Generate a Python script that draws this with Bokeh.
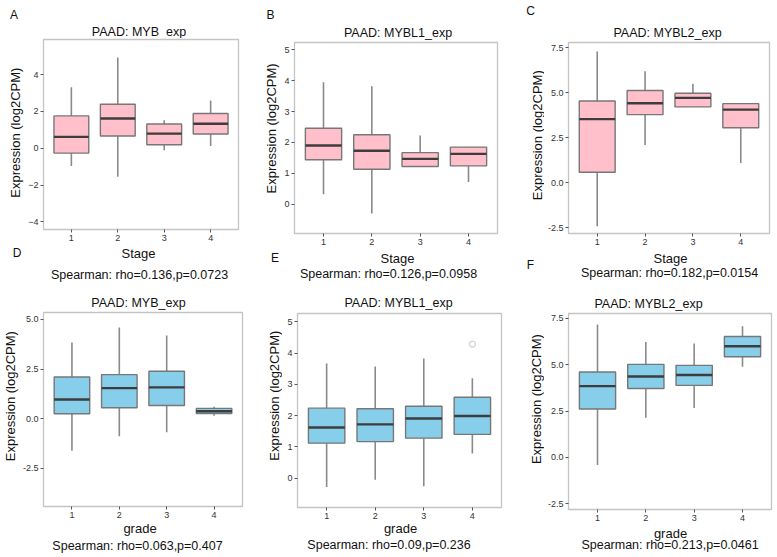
import math
from bokeh.plotting import figure
from bokeh.models import FixedTicker, NumeralTickFormatter, Range1d
from bokeh.layouts import row, column
from bokeh.core.properties import value
from bokeh.embed import file_html
from bokeh.resources import INLINE

# ---------------- data ----------------
groups = [1, 2, 3, 4]
tick_labels = ["1", "2", "3", "4"]

# Panel A: MYB by Stage
a_low = [-0.96, -1.55, -0.11, 0.12]
a_q1 = [-0.26, 0.67, 0.19, 0.78]
a_med = [0.62, 1.62, 0.80, 1.33]
a_q3 = [1.76, 2.39, 1.32, 1.89]
a_high = [3.32, 4.93, 1.53, 2.60]

# Panel B: MYBL1 by Stage
b_low = [0.32, -0.30, 1.21, 0.72]
b_q1 = [1.44, 1.13, 1.22, 1.24]
b_med = [1.90, 1.73, 1.47, 1.63]
b_q3 = [2.46, 2.25, 1.67, 1.85]
b_high = [3.95, 3.82, 2.23, 1.85]

# Panel C: MYBL2 by Stage
c_low = [-2.41, 2.10, 4.20, 1.10]
c_q1 = [0.59, 3.78, 4.21, 3.05]
c_med = [3.53, 4.41, 4.71, 4.06]
c_q3 = [4.54, 5.12, 4.97, 4.39]
c_high = [7.28, 6.19, 5.49, 4.39]

# Panel D: MYB by grade
d_low = [-1.61, -0.88, -0.68, 0.15]
d_q1 = [0.25, 0.55, 0.67, 0.26]
d_med = [0.97, 1.54, 1.58, 0.38]
d_q3 = [2.10, 2.22, 2.39, 0.52]
d_high = [3.84, 4.60, 4.19, 0.60]

# Panel E: MYBL1 by grade
e_low = [-0.28, -0.05, -0.26, 0.79]
e_q1 = [1.12, 1.17, 1.28, 1.40]
e_med = [1.62, 1.72, 1.91, 1.99]
e_q3 = [2.24, 2.22, 2.30, 2.59]
e_high = [3.67, 3.57, 3.83, 3.20]
e_out_x = [4]
e_out_y = [4.29]

# Panel F: MYBL2 by grade
f_low = [-0.40, 2.14, 2.66, 4.88]
f_q1 = [2.61, 3.71, 3.88, 5.42]
f_med = [3.84, 4.36, 4.44, 5.99]
f_q3 = [4.60, 5.01, 4.96, 6.51]
f_high = [7.16, 6.21, 6.14, 7.07]

titles = ["PAAD: MYB_exp", "PAAD: MYBL1_exp", "PAAD: MYBL2_exp"]
stats_stage = ["Spearman: rho=0.136,p=0.0723", "Spearman: rho=0.126,p=0.0958",
               "Spearman: rho=0.182,p=0.0154"]
stats_grade = ["Spearman: rho=0.063,p=0.407", "Spearman: rho=0.09,p=0.236",
               "Spearman: rho=0.213,p=0.0461"]
panel_letters = ["A", "B", "C", "D", "E", "F"]
x_labels = ["Stage", "grade"]
y_label = "Expression (log2CPM)"

FONT = "Liberation Sans"
PINK = "#FFC0CB"
BLUE = "#87CEEB"
V = math.pi / 2


def text_fig(x0, y0, x1, y1, items):
    """A blank strip whose data space equals page pixels (y negated)."""
    p = figure(width=x1 - x0, height=y1 - y0, x_range=Range1d(x0, x1), y_range=Range1d(-y1, -y0),
               output_backend="svg", toolbar_location=None, title=None,
               x_axis_type=None, y_axis_type=None,
               min_border_left=0, min_border_right=0, min_border_top=0, min_border_bottom=0)
    p.outline_line_color = None
    p.background_fill_color = "white"
    p.border_fill_color = "white"
    for (txt, X, Y, size, angle) in items:
        p.text(x=[X], y=[-Y], text=[txt], angle=angle, text_align="center",
               text_baseline="middle", text_font=value(FONT), text_font_size=value(size),
               text_color="#111111")
    return p


def plot_fig(x0, y0, x1, y1, frame, yr, yticks, fmt, data, fill, outliers=None):
    l, t, r, b = frame
    p = figure(width=x1 - x0, height=y1 - y0,
               x_range=Range1d(0.4, 4.6), y_range=Range1d(*yr),
               output_backend="svg", toolbar_location=None, title=None,
               min_border_left=l - x0, min_border_right=x1 - r,
               min_border_top=t - y0, min_border_bottom=y1 - b)
    p.background_fill_color = "white"
    p.border_fill_color = "white"
    p.outline_line_color = "#c4c4c4"
    p.outline_line_width = 1.3
    p.xgrid.visible = False
    p.ygrid.visible = False
    for ax in (p.xaxis[0], p.yaxis[0]):
        ax.axis_line_color = None
        ax.major_tick_line_color = "#555555"
        ax.major_tick_in = 0
        ax.major_tick_out = 3
        ax.minor_tick_line_color = None
        ax.major_label_text_font = FONT
        ax.major_label_text_font_size = "9px"
        ax.major_label_text_color = "#333333"
        ax.major_label_standoff = 2
    p.xaxis[0].ticker = FixedTicker(ticks=groups)
    p.xaxis[0].major_label_overrides = {g: s for g, s in zip(groups, tick_labels)}
    p.yaxis[0].ticker = FixedTicker(ticks=yticks)
    if fmt:
        p.yaxis[0].formatter = NumeralTickFormatter(format=fmt)

    low, q1, med, q3, high = data
    p.segment(x0=groups, y0=low, x1=groups, y1=q1, line_color="#8a8a8a", line_width=1.6)
    p.segment(x0=groups, y0=q3, x1=groups, y1=high, line_color="#8a8a8a", line_width=1.6)
    p.vbar(x=groups, width=0.75, bottom=q1, top=q3, fill_color=fill,
           line_color="#777777", line_width=1.4)
    p.segment(x0=[g - 0.375 for g in groups], y0=med, x1=[g + 0.375 for g in groups], y1=med,
              line_color="#3d3d3d", line_width=2.4)
    if outliers is not None:
        p.scatter(x=outliers[0], y=outliers[1], size=6, fill_color=None,
                  line_color="#d4d4d4", line_width=1.2)
    return p


LS, TS, AS = "12px", "12.5px", "13px"

colA = column(
    text_fig(0, 0, 264, 38, [(panel_letters[0], 13.5, 14, LS, 0), (titles[0], 138.5, 31.5, TS, 0)]),
    row(text_fig(0, 38, 25, 246, [(y_label, 15, 140, AS, V)]),
        plot_fig(25, 38, 264, 246, (40, 39, 238, 229), (-4.41, 5.91), [-4, -2, 0, 2, 4], None,
                 (a_low, a_q1, a_med, a_q3, a_high), PINK)),
    text_fig(0, 246, 264, 311, [(panel_letters[3], 16.5, 252, LS, 0), (x_labels[0], 138, 253, AS, 0),
                                (stats_stage[0], 139, 274.5, TS, 0), (titles[0], 138, 302.5, TS, 0)]),
    row(text_fig(0, 311, 19, 522, [(y_label, 10, 402, AS, V)]),
        plot_fig(19, 311, 264, 522, (41, 312, 242, 506), (-4.42, 5.35), [-2.5, 0, 2.5, 5], "0.0",
                 (d_low, d_q1, d_med, d_q3, d_high), BLUE)),
    text_fig(0, 522, 264, 557, [(x_labels[1], 139.5, 528, AS, 0), (stats_grade[0], 137, 545, TS, 0)]),
)

colB = column(
    text_fig(264, 0, 520, 41, [(panel_letters[1], 270, 14, LS, 0), (titles[1], 397.5, 32.5, TS, 0)]),
    row(text_fig(264, 41, 280, 250, [(y_label, 271, 135, AS, V)]),
        plot_fig(280, 41, 520, 250, (294, 42, 497, 233), (-0.95, 5.24), [0, 1, 2, 3, 4, 5], None,
                 (b_low, b_q1, b_med, b_q3, b_high), PINK)),
    text_fig(264, 250, 520, 312, [(panel_letters[4], 274.5, 257, LS, 0), (x_labels[0], 397, 258, AS, 0),
                                  (stats_stage[1], 388, 273.5, TS, 0), (titles[1], 398, 302.5, TS, 0)]),
    row(text_fig(264, 312, 282, 522, [(y_label, 274, 401, AS, V)]),
        plot_fig(282, 312, 520, 522, (297, 313, 501, 507), (-0.94, 5.27), [0, 1, 2, 3, 4, 5], None,
                 (e_low, e_q1, e_med, e_q3, e_high), BLUE, outliers=(e_out_x, e_out_y))),
    text_fig(264, 522, 520, 557, [(x_labels[1], 400, 528, AS, 0), (stats_grade[1], 388.5, 544, TS, 0)]),
)

colC = column(
    text_fig(520, 0, 777, 41, [(panel_letters[2], 530, 10, LS, 0), (titles[2], 667, 32, TS, 0)]),
    row(text_fig(520, 41, 544, 249, [(y_label, 537, 142, AS, V)]),
        plot_fig(544, 41, 777, 249, (566, 42, 769, 233), (-2.81, 7.78), [-2.5, 0, 2.5, 5, 7.5], "0.0",
                 (c_low, c_q1, c_med, c_q3, c_high), PINK)),
    text_fig(520, 249, 777, 312, [(panel_letters[5], 530, 264, LS, 0), (x_labels[0], 670, 258, AS, 0),
                                  (stats_stage[2], 669, 272, TS, 0), (titles[2], 648, 303, TS, 0)]),
    row(text_fig(520, 312, 544, 525, [(y_label, 536, 405, AS, V)]),
        plot_fig(544, 312, 777, 525, (566, 313, 771, 509), (-2.80, 7.75), [-2.5, 0, 2.5, 5, 7.5], "0.0",
                 (f_low, f_q1, f_med, f_q3, f_high), BLUE)),
    text_fig(520, 525, 777, 557, [(x_labels[1], 670, 533, AS, 0), (stats_grade[2], 669.5, 544, TS, 0)]),
)

layout = row(colA, colB, colC)
open("out.html", "w").write(file_html(layout, INLINE))
